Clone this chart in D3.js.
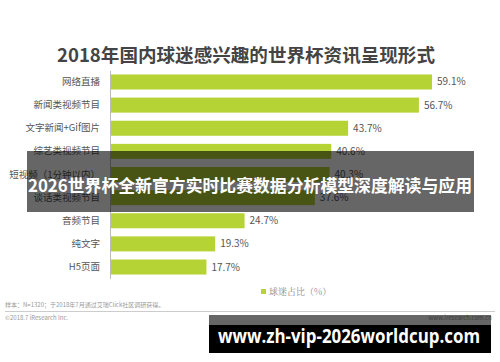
<!DOCTYPE html>
<html>
<head>
<meta charset="utf-8">
<script src="https://cdn.jsdelivr.net/npm/d3@7"></script>
<style>
  body { margin: 0; background: #fff; }
  svg { display: block; font-family: "Noto Sans CJK SC", "Noto Sans", sans-serif; }
</style>
</head>
<body>
<svg id="chart" width="500" height="362"></svg>
<script>
// data
var categories = ["网络直播", "新闻类视频节目", "文字新闻+Gif图片", "综艺类视频节目",
  "短视频（1分钟以内）", "谈话类视频节目", "音频节目", "纯文字", "H5页面"];
var values = [59.1, 56.7, 43.7, 40.6, 40.3, 37.6, 24.7, 19.3, 17.7];
var seriesName = "球迷占比（%）";
var titleText = "2018年国内球迷感兴趣的世界杯资讯呈现形式";
var noteText = "样本：N=1320；于2018年7月通过艾瑞Click社区调研获得。";
var copyText = "©2018.7 iResearch Inc.";
var siteText = "www.iresearch.com.cn";
var bannerText = "2026世界杯全新官方实时比赛数据分析模型深度解读与应用";
var urlText = "www.zh-vip-2026worldcup.com";

var svg = d3.select("#chart");
var green = "#b5d334";
var x0 = 110;

var x = d3.scaleLinear().domain([0, 59.1]).range([x0, 432]);
var y = d3.scaleBand().domain(categories).range([71, 278]).paddingInner(0.35).paddingOuter(0.15);

svg.append("text")
  .attr("x", 57).attr("y", 62)
  .attr("textLength", 378).attr("lengthAdjust", "spacingAndGlyphs")
  .attr("font-size", 18.5).attr("font-weight", "bold")
  .attr("fill", "#444")
  .text(titleText);

// bars
svg.selectAll(".bar").data(values).enter().append("rect")
  .attr("class", "bar")
  .attr("x", x0)
  .attr("y", function(d, i){ return y(categories[i]); })
  .attr("width", function(d){ return x(d) - x0; })
  .attr("height", y.bandwidth())
  .attr("fill", green);

svg.selectAll(".val").data(values).enter().append("text")
  .attr("class", "val")
  .attr("x", function(d){ return x(d) + 5; })
  .attr("y", function(d, i){ return y(categories[i]) + y.bandwidth() / 2; })
  .attr("dy", "0.35em")
  .attr("font-size", 10).attr("fill", "#555")
  .text(function(d){ return d.toFixed(1) + "%"; });

// category axis
var yAxis = svg.append("g")
  .attr("transform", "translate(" + x0 + ",0)")
  .call(d3.axisLeft(y).tickSize(0).tickPadding(10));
yAxis.select(".domain").attr("stroke", "#bbb").attr("d", "M0.5,71V279");
yAxis.selectAll("text").attr("font-size", 9.5).attr("fill", "#555")
  .attr("font-family", "\"Noto Sans CJK SC\", sans-serif");

// legend
svg.append("rect").attr("x", 261).attr("y", 289).attr("width", 5).attr("height", 5).attr("fill", green);
svg.append("text").attr("x", 269).attr("y", 295)
  .attr("font-size", 9).attr("fill", "#888")
  .attr("font-family", "\"Noto Serif CJK SC\", \"Noto Sans CJK SC\", serif")
  .text(seriesName);

// footer
svg.append("text").attr("x", 5).attr("y", 307).attr("font-size", 6).attr("fill", "#999").text(noteText);
svg.append("line").attr("x1", 5).attr("x2", 495).attr("y1", 311.5).attr("y2", 311.5).attr("stroke", "#ccc");
svg.append("text").attr("x", 5).attr("y", 320).attr("font-size", 6).attr("fill", "#999").text(copyText);
svg.append("text").attr("x", 492).attr("y", 320).attr("text-anchor", "end").attr("font-size", 6).attr("fill", "#999").text(siteText);

// overlay banner
svg.append("rect").attr("x", 27).attr("y", 151).attr("width", 447).attr("height", 61).attr("fill", "rgba(0,0,0,0.6)");
svg.append("text").attr("x", 28).attr("y", 186)
  .attr("textLength", 444).attr("lengthAdjust", "spacingAndGlyphs")
  .attr("dy", "0.35em")
  .attr("font-size", 17.5).attr("font-weight", "bold").attr("fill", "#fff")
  .text(bannerText);

// url box
svg.append("rect").attr("x", 209).attr("y", 315).attr("width", 282).attr("height", 10).attr("fill", "rgba(0,0,0,0.6)");
svg.append("rect").attr("x", 209).attr("y", 325).attr("width", 282).attr("height", 28).attr("fill", "#000");
svg.append("text").attr("x", 218).attr("y", 343)
  .attr("textLength", 262).attr("lengthAdjust", "spacingAndGlyphs")
  .attr("font-size", 19).attr("font-weight", "bold").attr("fill", "#fff")
  .attr("font-family", "\"Open Sans\", \"DejaVu Sans\", sans-serif")
  .text(urlText);
</script>
</body>
</html>
